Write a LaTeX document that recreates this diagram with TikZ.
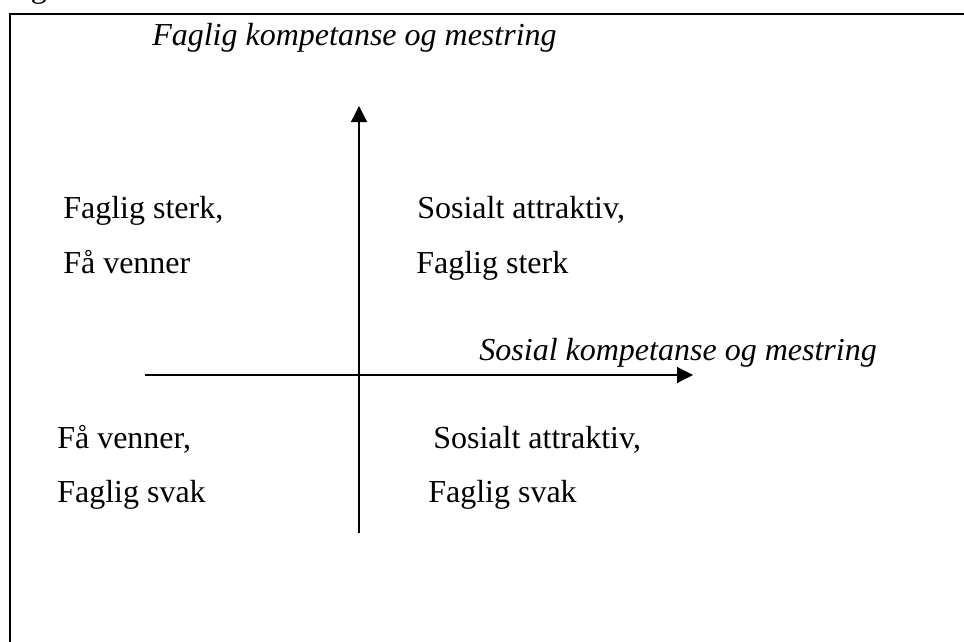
\documentclass[tikz,border=0pt]{standalone}
\usepackage{fontspec}
\setmainfont{Liberation Serif}
\usetikzlibrary{arrows.meta}
\begin{document}
\begin{tikzpicture}[x=0.75pt,y=-0.75pt,
  lbl/.style={anchor=base west,inner sep=0pt,font=\fontsize{24}{28}\selectfont},
  axislbl/.style={inner sep=0pt,font=\fontsize{24}{28}\selectfont\itshape},
  axis/.style={line width=0.9pt,-{Triangle[length=12pt,width=12pt]}},
  frame/.style={line width=1.6pt}]
\useasboundingbox (0,0) rectangle (964,642);
% partially visible caption above the frame
\node[lbl] (cap) at (4,-2) {Figur};
% frame (continues beyond the right and bottom edges)
\draw[frame] (1000,700) -- (10,700) -- (10,14) -- (1000,14);
% axes
\coordinate (hs) at (145,375);
\coordinate (he) at (693,375);
\coordinate (vs) at (359,533);
\coordinate (ve) at (359,106);
\draw[axis] (hs) -- (he);
\draw[axis] (vs) -- (ve);
% axis labels
\node[axislbl,anchor=base west] (ylab) at (152,46) {Faglig kompetanse og mestring};
\node[axislbl,anchor=base east] (xlab) at (877,360) {Sosial kompetanse og mestring};
% quadrant texts
\node[lbl] (ul1) at (63,218) {Faglig sterk,};
\node[lbl] (ul2) at (63,273) {Få venner};
\node[lbl] (ur1) at (417,218) {Sosialt attraktiv,};
\node[lbl] (ur2) at (416,273) {Faglig sterk};
\node[lbl] (ll1) at (57,448) {Få venner,};
\node[lbl] (ll2) at (57,502) {Faglig svak};
\node[lbl] (lr1) at (433,448) {Sosialt attraktiv,};
\node[lbl] (lr2) at (428,502) {Faglig svak};
\end{tikzpicture}
\end{document}
